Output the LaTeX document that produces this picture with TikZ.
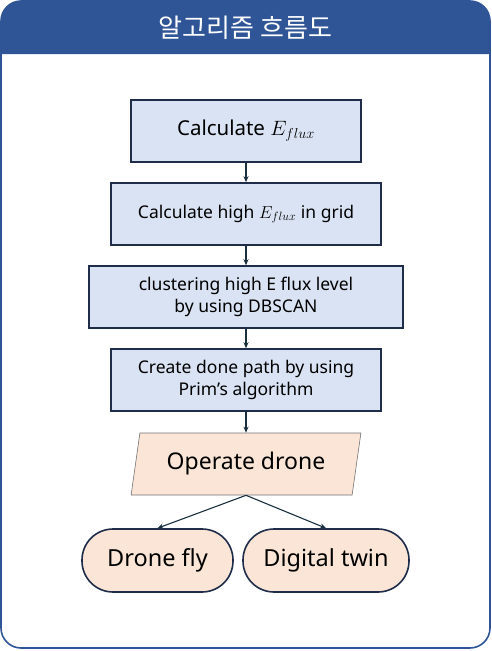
\documentclass[tikz,border=0pt]{standalone}
\usepackage{fontspec}
\setmainfont{Noto Sans}
\newfontfamily\kor{Noto Sans CJK KR}
\usetikzlibrary{arrows.meta, positioning, shapes.geometric}
\definecolor{hdrblue}{RGB}{47,85,151}
\definecolor{stepfill}{RGB}{218,227,243}
\definecolor{stepline}{RGB}{31,45,74}
\definecolor{opfill}{RGB}{251,229,214}
\definecolor{arrowcol}{RGB}{26,48,62}

\begin{document}
\begin{tikzpicture}[x=1pt, y=-1pt, >={Stealth[length=6pt, width=5pt]},
      stepbox/.style={draw=stepline, line width=1.6pt, fill=stepfill,
                      minimum height=62pt, inner sep=2pt, align=center,
                      font=\fontsize{17.5}{22}\selectfont},
      opbox/.style={trapezium, trapezium left angle=76, trapezium right angle=104,
                    trapezium stretches=true, draw=black!55, line width=0.6pt,
                    fill=opfill, minimum width=230pt, minimum height=62pt,
                    inner sep=2pt, font=\fontsize{23}{27}\selectfont},
      endbox/.style={draw=stepline, line width=1.6pt, fill=opfill,
                     rounded corners=31pt, minimum height=63pt, inner sep=2pt,
                     font=\fontsize{23.5}{27}\selectfont},
      link/.style={->, draw=arrowcol, line width=1.1pt}]

    % page and frame
    \useasboundingbox (0,0) rectangle (491,651);
    \fill[hdrblue] (1,54) [rounded corners=20pt] -- (1,1) -- (490,1) [sharp corners] -- (490,54) -- cycle;
    \draw[hdrblue, line width=1.6pt, rounded corners=20pt] (1,1) rectangle (490,648);
    \node[text=white, font=\kor\fontsize{26}{30}\selectfont] (title) at (245.5,28) {알고리즘 흐름도};

    % process steps
    \node[stepbox, minimum width=230pt, font=\fontsize{20.5}{24}\selectfont] (s1) at (246,131)
      {Calculate $E_{flux}$};
    \node[stepbox, minimum width=270pt] (s2) at (246,214)
      {Calculate high $E_{flux}$ in grid};
    \node[stepbox, minimum width=314pt] (s3) at (246,297)
      {clustering high E flux level\\by using DBSCAN};
    \node[stepbox, minimum width=270pt] (s4) at (246,380)
      {Create done path by using\\Prim’s algorithm};

    % output
    \node[opbox] (op) at (246,464) {Operate drone};
    \node[endbox, minimum width=151pt] (fly) at (157.5,560.5) {Drone fly};
    \node[endbox, minimum width=166pt] (twin) at (326,560.5) {Digital twin};

    % connectors
    \draw[link] (s1) -- (s2);
    \draw[link] (s2) -- (s3);
    \draw[link] (s3) -- (s4);
    \draw[link] (s4) -- (op);
    \draw[link] (op.south) -- (fly.north);
    \draw[link] (op.south) -- (twin.north);

\end{tikzpicture}
\end{document}
